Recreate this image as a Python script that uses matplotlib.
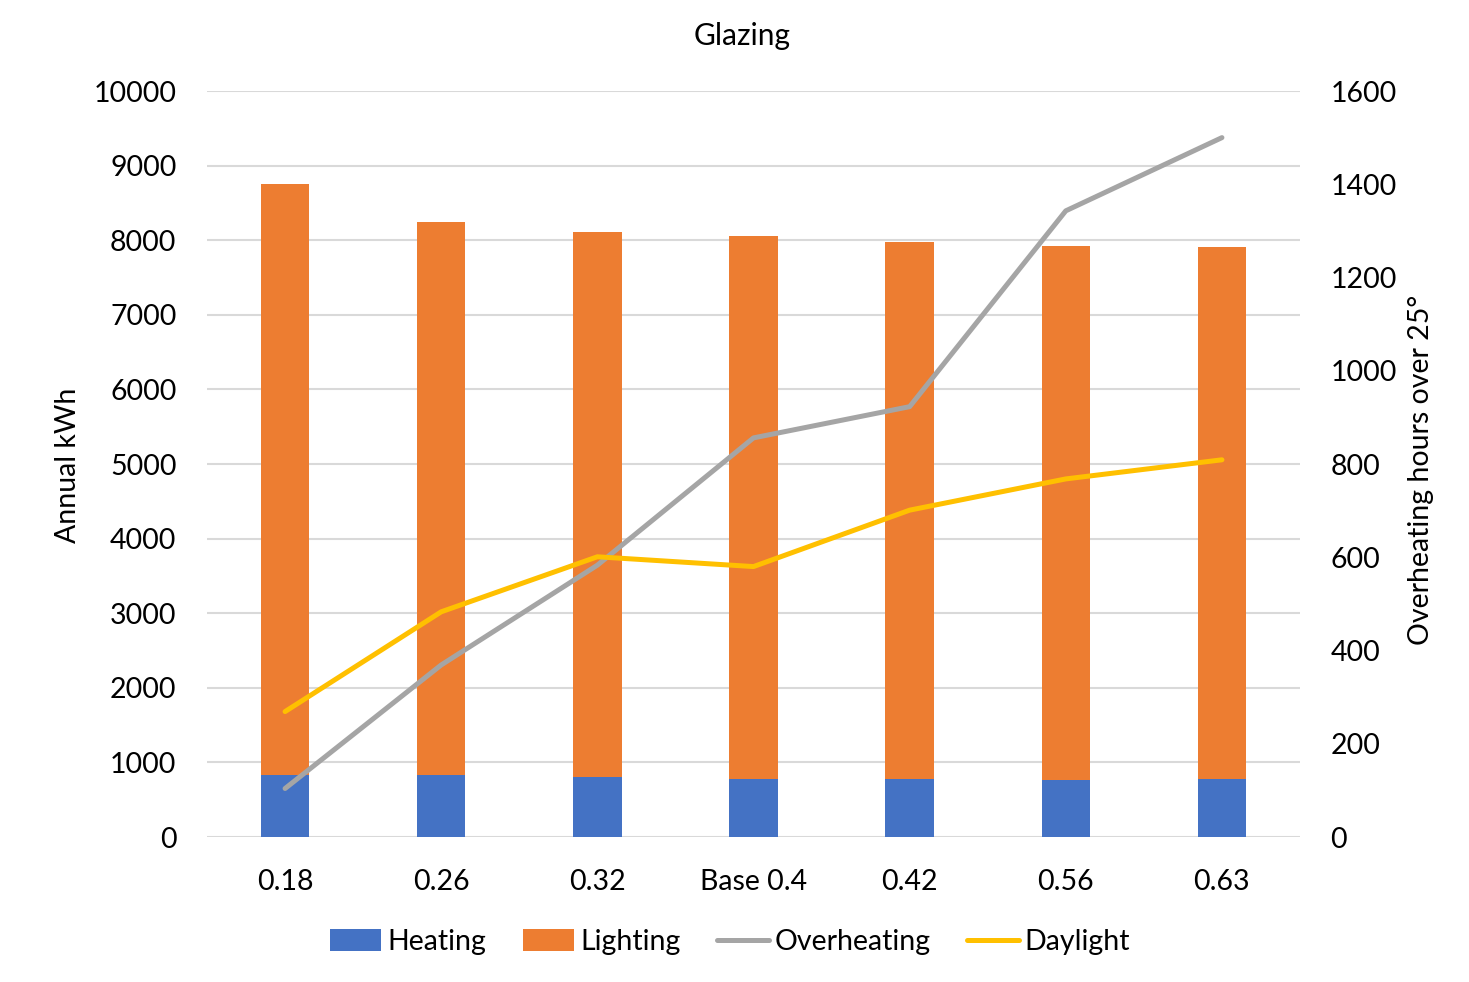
import matplotlib
matplotlib.use("Agg")
import matplotlib.pyplot as plt
import numpy as np

plt.rcParams['font.family'] = ['Lato', 'DejaVu Sans']

categories = ["0.18", "0.26", "0.32", "Base 0.4", "0.42", "0.56", "0.63"]
heating = [832, 826, 805, 783, 779, 765, 779]
total_energy = [8750, 8240, 8110, 8060, 7980, 7920, 7910]
lighting = [t - h for t, h in zip(total_energy, heating)]
overheating = [104, 369, 583, 856, 923, 1343, 1500]
daylight = [269, 483, 601, 580, 701, 768, 809]

left_ticks = list(range(0, 10001, 1000))
right_ticks = list(range(0, 1601, 200))

BLUE = "#4472C4"
ORANGE = "#ED7D31"
GRAY = "#A5A5A5"
YELLOW = "#FFC000"
GRID = "#D9D9D9"
FS = 20.5

fig = plt.figure(figsize=(14.69, 9.82), dpi=100)
ax = fig.add_axes([207 / 1469, 1 - 837 / 982, (1300 - 207) / 1469, (837 - 91) / 982])
ax2 = ax.twinx()

x = np.arange(len(categories))
w = 0.31
hb = ax.bar(x, heating, w, color=BLUE, label="Heating", zorder=2)
lb = ax.bar(x, lighting, w, bottom=heating, color=ORANGE, label="Lighting", zorder=2)

ol, = ax2.plot(x, overheating, color=GRAY, lw=3.6, solid_capstyle='round',
               solid_joinstyle='round', label="Overheating")
dl, = ax2.plot(x, daylight, color=YELLOW, lw=3.6, solid_capstyle='round',
               solid_joinstyle='round', label="Daylight")

ax.set_xlim(-0.5, len(categories) - 0.5)
ax.set_ylim(0, 10000)
ax2.set_ylim(0, 1600)
ax.set_yticks(left_ticks)
ax2.set_yticks(right_ticks)
ax.set_xticks(x)
ax.set_xticklabels(categories)

for a in (ax, ax2):
    for s in a.spines.values():
        s.set_visible(False)
    a.tick_params(length=0, labelsize=FS, colors="black")

ax.tick_params(axis='y', pad=22)
ax.tick_params(axis='x', pad=23)
ax2.tick_params(axis='y', pad=22)

ax.yaxis.grid(True, color=GRID, lw=1.5, zorder=0)
ax.set_axisbelow(True)

fig.text(68 / 1469, 1 - 465 / 982, "Annual kWh", fontsize=FS, rotation=90,
         ha="center", va="center")
fig.text(1421 / 1469, 1 - 470 / 982, "Overheating hours over 25°", fontsize=FS,
         rotation=90, ha="center", va="center")
fig.text(742 / 1469, 1 - 36 / 982, "Glazing", fontsize=FS + 1, ha="center",
         va="center")

fig.legend([hb, lb, ol, dl], ["Heating", "Lighting", "Overheating", "Daylight"],
           loc="center", bbox_to_anchor=(730 / 1469, 1 - 942 / 982), ncol=4,
           frameon=False, fontsize=FS, handlelength=1.8, handleheight=0.8,
           handletextpad=0.2, columnspacing=1.3)

fig.savefig("out.png", dpi=100, facecolor="white")
